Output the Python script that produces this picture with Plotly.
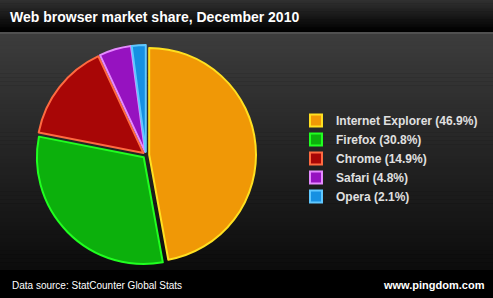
import plotly.graph_objects as go

browsers = ["Internet Explorer", "Firefox", "Chrome", "Safari", "Opera"]
shares = [46.9, 30.8, 14.9, 4.8, 2.1]
fill_colors = ["#f09806", "#0cb00c", "#a80606", "#9612c0", "#1690e2"]
edge_colors = ["#ffe020", "#20ff20", "#ff6a40", "#e58aff", "#60c8ff"]

W, H = 493, 298
legend_labels = [f"{b} ({s}%)" for b, s in zip(browsers, shares)]

CX, CY, HALF = 146, 155, 110

fig = go.Figure()
fig.add_trace(go.Pie(
    labels=legend_labels,
    values=shares,
    sort=False,
    direction="clockwise",
    rotation=0,
    pull=[0.03] * len(shares),
    textinfo="none",
    hoverinfo="label",
    marker=dict(colors=fill_colors, line=dict(color=edge_colors, width=2)),
    domain=dict(x=[(CX - HALF) / W, (CX + HALF) / W], y=[1 - (CY + HALF) / H, 1 - (CY - HALF) / H]),
))

shapes = []
# main background gradient
top, bot = 34, 270
n = 60
for i in range(n):
    t = i / (n - 1)
    c0, c1 = 0x3c, 0x0c
    v = int(round(c0 + (c1 - c0) * t))
    y0 = top + (bot - top) * i / n
    y1 = top + (bot - top) * (i + 1) / n + 0.5
    shapes.append(dict(type="rect", xref="paper", yref="paper", x0=0, x1=1,
                       y0=1 - y1 / H, y1=1 - y0 / H, fillcolor=f"rgb({v},{v},{v})",
                       line=dict(width=0), layer="below"))
# title bar gradient
for i in range(20):
    t = i / 19
    v = int(round(0x30 + (0x00 - 0x30) * t))
    y0 = 0 + 32 * i / 20
    y1 = 32 * (i + 1) / 20 + 0.5
    shapes.append(dict(type="rect", xref="paper", yref="paper", x0=0, x1=1,
                       y0=1 - y1 / H, y1=1 - y0 / H, fillcolor=f"rgb({v},{v},{v})",
                       line=dict(width=0), layer="below"))
shapes.append(dict(type="rect", xref="paper", yref="paper", x0=0, x1=1,
                   y0=1 - 34 / H, y1=1 - 32 / H, fillcolor="#505050",
                   line=dict(width=0), layer="below"))
# bottom bar
shapes.append(dict(type="rect", xref="paper", yref="paper", x0=0, x1=1,
                   y0=0, y1=1 - 270 / H, fillcolor="#000000",
                   line=dict(width=0), layer="below"))

fig.update_layout(
    width=W, height=H,
    margin=dict(l=0, r=0, t=0, b=0),
    paper_bgcolor="#000000",
    plot_bgcolor="#000000",
    shapes=shapes,
    title=dict(text="Web browser market share, December 2010", x=10 / W, xanchor="left",
               y=1 - 17 / H, yanchor="middle",
               font=dict(family="Arial, Liberation Sans, sans-serif", size=14, color="#ffffff", weight="bold")),
    legend=dict(x=296 / W, xanchor="left", y=1 - 106 / H, yanchor="top",
                bgcolor="rgba(0,0,0,0)",
                font=dict(family="Arial, Liberation Sans, sans-serif", size=12, color="#e0e0e0", weight="bold"),
                itemwidth=30),
    annotations=[
        dict(text="Data source: StatCounter Global Stats", xref="paper", yref="paper",
             x=10 / W, y=1 - 285 / H, xanchor="left", yanchor="middle", showarrow=False,
             font=dict(family="Arial, Liberation Sans, sans-serif", size=10, color="#ffffff")),
        dict(text="www.pingdom.com", xref="paper", yref="paper",
             x=487 / W, y=1 - 285 / H, xanchor="right", yanchor="middle", showarrow=False,
             font=dict(family="Arial, Liberation Sans, sans-serif", size=11, color="#ffffff", weight="bold")),
    ],
)

fig.write_html("out.html")
